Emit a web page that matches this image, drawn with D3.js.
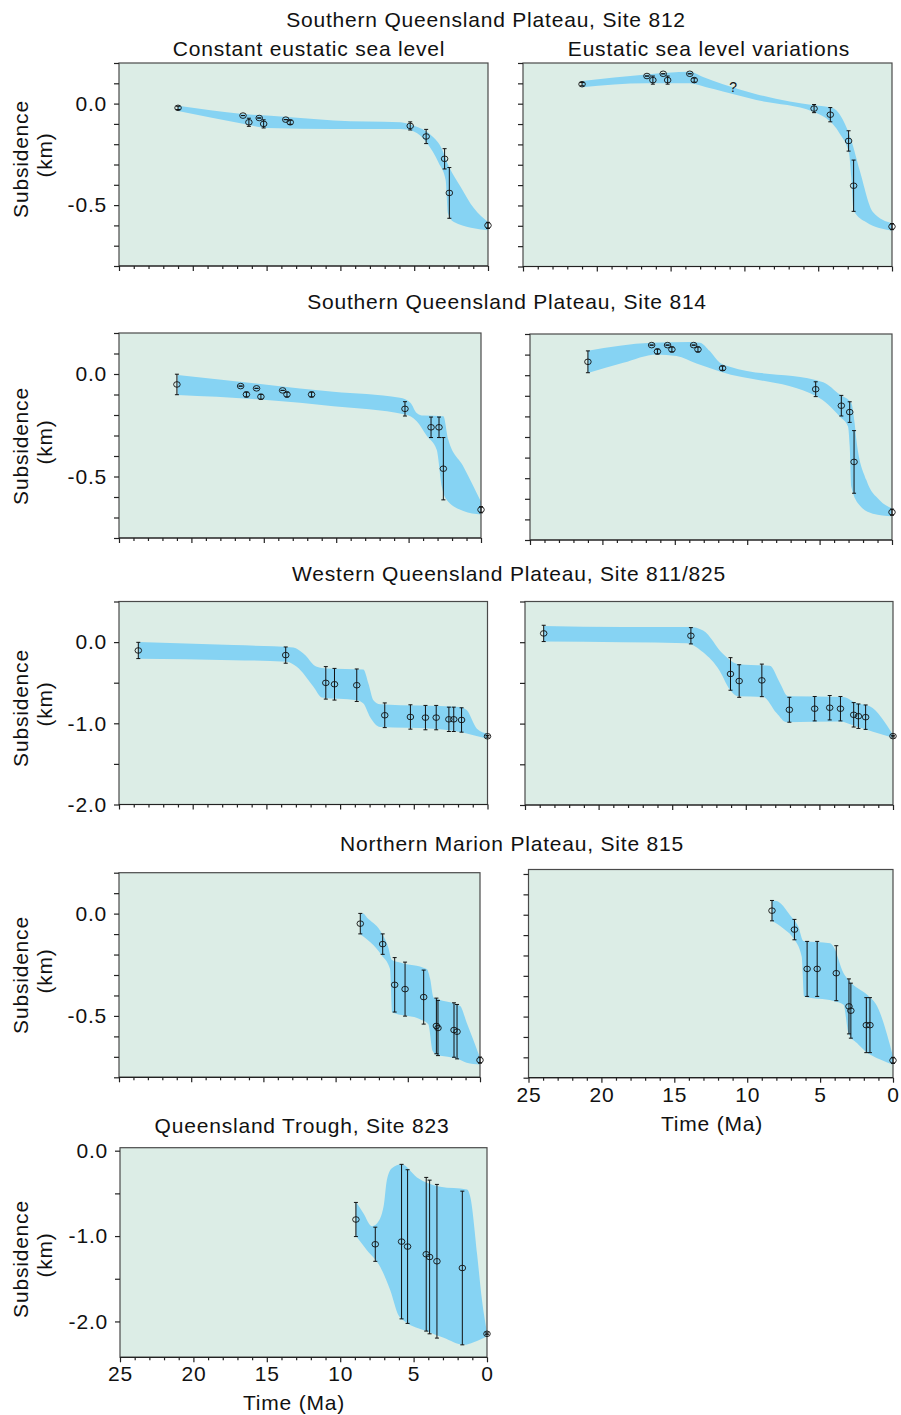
<!DOCTYPE html>
<html>
<head>
<meta charset="utf-8">
<script src="https://cdn.jsdelivr.net/npm/d3@7"></script>
<style>
  body { margin: 0; background: #fff; }
  svg { font-family: "Liberation Sans", Arial, Helvetica, sans-serif; }
  svg text { letter-spacing: 0.8px; }
</style>
</head>
<body>
<div id="chart"></div>
<script>
// ---- data: points are [age Ma, subsidence km, error km]; band edges are [age, km]
const s812cPts = [[21.0,-0.021,0.008],[16.6,-0.059,0],[16.2,-0.092,0.02],[15.5,-0.071,0],[15.2,-0.10,0.02],
  [13.7,-0.079,0],[13.4,-0.092,0.01],[5.27,-0.11,0.02],[4.19,-0.162,0.035],[2.94,-0.272,0.05],[2.62,-0.44,0.125],[0,-0.60,0.015]]
const s812cTop = [[21.0,-0.010],[16.6,-0.051],[13.6,-0.066],[10.45,-0.083],[5.93,-0.092],[5.02,-0.109],[3.89,-0.153],
  [3.21,-0.211],[2.65,-0.310],[1.86,-0.409],[0.95,-0.516],[0,-0.583]]
const s812cBot = [[21.0,-0.036],[16.6,-0.099],[14.98,-0.120],[10.45,-0.125],[5.93,-0.125],[5.02,-0.137],[4.12,-0.195],
  [3.33,-0.294],[2.87,-0.376],[2.71,-0.541],[2.31,-0.583],[0,-0.624]]

const s812ePts = [[21.0,0.096,0.008],[16.6,0.136,0],[16.2,0.116,0.02],[15.5,0.147,0],[15.2,0.116,0.02],
  [13.7,0.147,0],[13.4,0.116,0.01],[5.28,-0.024,0.02],[4.18,-0.054,0.035],[2.94,-0.183,0.05],[2.60,-0.403,0.126],[0,-0.604,0.015]]
const s812eTop = [[21.0,0.111],[16.64,0.144],[13.71,0.157],[12.80,0.131],[11.45,0.096],[9.19,0.047],[6.93,0.011],
  [5.28,-0.008],[3.99,-0.022],[3.32,-0.080],[2.76,-0.179],[2.19,-0.327],[1.28,-0.533],[0,-0.587]]
const s812eBot = [[21.0,0.081],[16.64,0.101],[13.71,0.100],[12.58,0.081],[11.45,0.060],[9.19,0.018],[5.35,-0.039],
  [4.45,-0.072],[3.55,-0.146],[2.91,-0.245],[2.76,-0.360],[2.60,-0.525],[1.74,-0.583],[0,-0.624]]
const s812eQuery = [10.73, 0.082]

const s814cPts = [[21.0,-0.051,0.05],[16.6,-0.059,0],[16.2,-0.10,0.012],[15.5,-0.070,0],[15.2,-0.111,0.012],
  [13.7,-0.080,0],[13.4,-0.10,0.012],[11.7,-0.10,0.012],[5.25,-0.17,0.035],[3.45,-0.26,0.05],[2.90,-0.26,0.05],
  [2.60,-0.462,0.152],[0,-0.662,0.015]]
const s814cTop = [[20.95,-0.005],[14.8,-0.052],[10.2,-0.087],[5.6,-0.116],[4.86,-0.141],[4.44,-0.190],[3.98,-0.203],
  [2.6,-0.206],[2.26,-0.320],[1.22,-0.451],[0,-0.623]]
const s814cBot = [[20.95,-0.103],[14.8,-0.127],[10.2,-0.157],[5.25,-0.198],[4.44,-0.230],[3.75,-0.301],[3.06,-0.369],
  [2.71,-0.549],[2.37,-0.614],[1.22,-0.668],[0,-0.685]]

const s814ePts = [[21.0,0.065,0.053],[16.6,0.146,0],[16.2,0.115,0.012],[15.5,0.146,0],[15.2,0.125,0.012],
  [13.7,0.146,0],[13.4,0.125,0.012],[11.7,0.034,0.01],[5.27,-0.068,0.036],[3.50,-0.148,0.05],[2.92,-0.179,0.05],
  [2.62,-0.421,0.152],[0,-0.665,0.015]]
const s814eTop = [[21,0.119],[16.6,0.158],[13.96,0.161],[13.27,0.158],[12.58,0.117],[11.89,0.060],[11.2,0.041],
  [4.75,-0.034],[3.61,-0.094],[2.81,-0.135],[2.58,-0.233],[2.46,-0.314],[1.77,-0.509],[0.85,-0.607],[0,-0.647]]
const s814eBot = [[21,0.011],[18.56,0.060],[16.26,0.101],[14.88,0.093],[13.5,0.057],[11.89,0.018],[5.22,-0.102],
  [3.61,-0.200],[3.04,-0.249],[2.92,-0.346],[2.81,-0.541],[2.24,-0.631],[1.32,-0.672],[0,-0.685]]

const s811cPts = [[23.69,-0.103,0.1],[13.69,-0.16,0.1],[10.97,-0.502,0.2],[10.38,-0.519,0.195],[8.87,-0.531,0.2],
  [6.97,-0.901,0.152],[5.23,-0.922,0.15],[4.21,-0.93,0.15],[3.48,-0.93,0.15],[2.62,-0.951,0.15],[2.29,-0.951,0.15],
  [1.76,-0.959,0.15],[0,-1.16,0.01]]
const s811cTop = [[23.69,0.0],[17.24,-0.037],[13.17,-0.066],[12.49,-0.140],[11.58,-0.305],[10.9,-0.325],[8.42,-0.337],
  [8.08,-0.510],[7.74,-0.716],[7.29,-0.765],[1.86,-0.798],[1.40,-0.840],[0.72,-1.066],[0,-1.128]]
const s811cBot = [[23.69,-0.206],[17.24,-0.222],[13.62,-0.243],[12.94,-0.305],[11.81,-0.551],[11.24,-0.683],[8.87,-0.716],
  [8.42,-0.757],[7.97,-0.922],[7.29,-1.045],[3.67,-1.066],[1.86,-1.107],[0.95,-1.148],[0,-1.189]]

const s811ePts = [[23.73,0.108,0.1],[13.73,0.079,0.1],[11.04,-0.39,0.2],[10.45,-0.477,0.2],[8.91,-0.469,0.2],
  [7.04,-0.83,0.153],[5.32,-0.817,0.15],[4.30,-0.805,0.15],[3.57,-0.817,0.15],[2.67,-0.892,0.15],[2.35,-0.909,0.15],
  [1.86,-0.921,0.15],[0,-1.154,0.01]]
const s811eTop = [[23.73,0.199],[18.33,0.187],[13.8,0.187],[12.9,0.145],[11.54,-0.145],[10.52,-0.270],[8.37,-0.290],
  [7.69,-0.498],[7.13,-0.664],[3.39,-0.672],[2.49,-0.747],[1.58,-0.788],[0,-1.141]]
const s811eBot = [[23.73,0.008],[18.33,0.0],[14.03,-0.012],[12.9,-0.124],[11.77,-0.353],[11.09,-0.581],[10.52,-0.664],
  [8.82,-0.672],[7.91,-0.871],[7.24,-0.983],[3.62,-0.975],[2.49,-1.037],[1.36,-1.10],[0,-1.174]]

const s815cPts = [[8.29,-0.049,0.05],[6.74,-0.149,0.05],[5.91,-0.348,0.133],[5.19,-0.369,0.132],[3.90,-0.408,0.132],
  [3.02,-0.549,0.136],[2.91,-0.559,0.135],[1.80,-0.569,0.133],[1.59,-0.577,0.133],[0,-0.716,0.015]]
const s815cTop = [[8.29,0.0],[8.08,0.0],[7.85,-0.018],[6.92,-0.083],[6.35,-0.165],[6.11,-0.225],[5.54,-0.239],
  [3.69,-0.271],[3.45,-0.320],[3.22,-0.410],[2.76,-0.422],[1.38,-0.451],[0.92,-0.533],[0,-0.704]]
const s815cBot = [[8.29,-0.101],[6.81,-0.203],[6.23,-0.271],[6.09,-0.482],[4.15,-0.516],[3.58,-0.541],[3.28,-0.672],
  [3.01,-0.690],[1.97,-0.703],[1.50,-0.712],[0.92,-0.729],[0,-0.737]]

const s815ePts = [[8.30,0.020,0.05],[6.76,-0.073,0.05],[5.89,-0.266,0.135],[5.20,-0.266,0.135],[3.89,-0.287,0.135],
  [3.02,-0.450,0.135],[2.89,-0.471,0.135],[1.83,-0.542,0.135],[1.58,-0.542,0.135],[0,-0.715,0.015]]
const s815eTop = [[8.30,0.070],[7.97,0.067],[7.06,-0.002],[6.49,-0.059],[6.14,-0.129],[4.31,-0.140],[4.08,-0.157],
  [3.39,-0.287],[3.05,-0.320],[1.56,-0.406],[1.21,-0.434],[0,-0.695]]
const s815eBot = [[8.30,-0.031],[7.52,-0.067],[6.83,-0.116],[6.26,-0.206],[6.1,-0.401],[4.08,-0.423],[3.39,-0.442],
  [3.05,-0.584],[2.47,-0.630],[1.90,-0.670],[0.87,-0.711],[0,-0.736]]

const s823Pts = [[8.93,-0.806,0.2],[7.61,-1.096,0.2],[5.82,-1.065,0.905],[5.41,-1.123,0.9],[4.14,-1.213,0.9],
  [3.91,-1.245,0.9],[3.41,-1.295,0.9],[1.68,-1.374,0.9],[0,-2.145,0.01]]
const s823Top = [[8.93,-0.599],[8.41,-0.736],[7.84,-0.885],[7.5,-0.853],[7.05,-0.658],[6.82,-0.344],[6.48,-0.207],
  [5.82,-0.160],[4.77,-0.313],[3.18,-0.423],[1.36,-0.454],[1.14,-0.540],[0.68,-1.205],[0.34,-1.753],[0,-2.125]]
const s823Bot = [[8.93,-1.0],[8.18,-1.166],[7.27,-1.362],[6.59,-1.636],[6.02,-1.930],[5.68,-1.988],[4.09,-2.114],
  [2.95,-2.192],[1.59,-2.274],[0.91,-2.243],[0,-2.172]]

const ageTicks = d3.range(0, 26, 1)
const ageLabels = [25, 20, 15, 10, 5, 0]
const kmTicksFine = d3.range(-8, 3).map(d => d / 10)
const kmLabelsFine = [0, -0.5]
const kmTicksCoarse = [0.5, 0, -0.5, -1, -1.5, -2]
const kmLabelsCoarse = [0, -1, -2]
const kmTicks823 = [0, -0.5, -1, -1.5, -2]

const titles = [
  ["Southern Queensland Plateau, Site 812", 486, 27],
  ["Constant eustatic sea level", 309, 56],
  ["Eustatic sea level variations", 709, 56],
  ["Southern Queensland Plateau, Site 814", 507, 309],
  ["Western Queensland Plateau, Site 811/825", 509, 581],
  ["Northern Marion Plateau, Site 815", 512, 851],
  ["Queensland Trough, Site 823", 302, 1133]
]

// ---- layout
const panels = [
  {x: [119, 488], y: [63, 266], dom: [-0.8, 0.2], top: s812cTop, bot: s812cBot, pts: s812cPts, ticks: kmTicksFine, labels: kmLabelsFine, yTitle: 159},
  {x: [523, 892], y: [63, 266.5], dom: [-0.8, 0.2], top: s812eTop, bot: s812eBot, pts: s812ePts, ticks: kmTicksFine, query: s812eQuery},
  {x: [119, 481], y: [333, 538], dom: [-0.8, 0.2], top: s814cTop, bot: s814cBot, pts: s814cPts, ticks: kmTicksFine, labels: kmLabelsFine, yTitle: 446},
  {x: [530, 892], y: [334, 540], dom: [-0.8, 0.2], top: s814eTop, bot: s814eBot, pts: s814ePts, ticks: kmTicksFine},
  {x: [119, 487.5], y: [601.5, 804.5], dom: [-2, 0.5], top: s811cTop, bot: s811cBot, pts: s811cPts, ticks: kmTicksCoarse, labels: kmLabelsCoarse, yTitle: 708},
  {x: [525, 893], y: [601.5, 805], dom: [-2, 0.5], top: s811eTop, bot: s811eBot, pts: s811ePts, ticks: kmTicksCoarse},
  {x: [119, 480], y: [872.7, 1077.3], dom: [-0.8, 0.2], top: s815cTop, bot: s815cBot, pts: s815cPts, ticks: kmTicksFine, labels: kmLabelsFine, yTitle: 975},
  {x: [528.5, 893], y: [869.5, 1077.7], dom: [-0.8, 0.222], top: s815eTop, bot: s815eBot, pts: s815ePts, ticks: kmTicksFine, xLabels: true, xTitle: 712},
  {x: [120, 487], y: [1147.7, 1357.3], dom: [-2.42, 0.035], top: s823Top, bot: s823Bot, pts: s823Pts, ticks: kmTicks823, labels: kmLabelsCoarse, yTitle: 1259, xLabels: true, xTitle: 294}
]

const fontSize = 21
const fmt = d => d3.format(".1f")(d).replace("\u2212", "-")

const svg = d3.select("#chart").append("svg")
    .attr("width", 901)
    .attr("height", 1415)

svg.selectAll("text.title")
    .data(titles)
    .join("text")
        .attr("class", "title")
        .attr("x", d => d[1])
        .attr("y", d => d[2])
        .attr("text-anchor", "middle")
        .attr("font-size", fontSize)
        .attr("fill", "#111")
        .text(d => d[0])

panels.forEach(p => {
    const x = d3.scaleLinear().domain([25, 0]).range(p.x)
    const y = d3.scaleLinear().domain(p.dom).range([p.y[1], p.y[0]])
    const g = svg.append("g")

    g.append("rect")
        .attr("x", p.x[0]).attr("y", p.y[0])
        .attr("width", p.x[1] - p.x[0]).attr("height", p.y[1] - p.y[0])
        .attr("fill", "#dcede6")

    // uncertainty band: top edge forward, bottom edge back
    const bandTop = p.top.map(([t, v]) => [x(t), y(v)])
    const bandBot = p.bot.map(([t, v]) => [x(t), y(v)])
    const line = d3.line().curve(d3.curveMonotoneX)
    const topPath = line(bandTop)
    const botPath = line(bandBot.slice().reverse()).replace(/^M/, "L")
    g.append("path")
        .attr("d", topPath + botPath + "Z")
        .attr("fill", "#86d3f3")

    g.append("rect")
        .attr("x", p.x[0]).attr("y", p.y[0])
        .attr("width", p.x[1] - p.x[0]).attr("height", p.y[1] - p.y[0])
        .attr("fill", "none")
        .attr("stroke", "#4a4a4a")
        .attr("stroke-width", 1.2)

    const yAxis = g.append("g")
        .attr("transform", `translate(${p.x[0]},0)`)
        .call(d3.axisLeft(y).tickValues(p.ticks).tickSize(5).tickPadding(7)
            .tickFormat(d => p.labels && p.labels.includes(d) ? fmt(d) : ""))
    yAxis.select(".domain").remove()
    yAxis.selectAll("line").attr("stroke", "#222").attr("stroke-width", 1.2)
    yAxis.selectAll("text").attr("font-size", fontSize).attr("fill", "#111")
        .attr("font-family", "Liberation Sans, Arial, sans-serif")

    const xAxis = g.append("g")
        .attr("transform", `translate(0,${p.y[1]})`)
        .call(d3.axisBottom(x).tickValues(ageTicks).tickSize(3).tickPadding(6)
            .tickFormat(d => p.xLabels && ageLabels.includes(d) ? d : ""))
    xAxis.select(".domain").attr("stroke", "#222").attr("stroke-width", 1.2)
        .attr("d", `M${p.x[0]},0H${p.x[1]}`)
    xAxis.selectAll("line").attr("stroke", "#222").attr("stroke-width", 1.2)
        .attr("y2", d => d % 5 === 0 ? 5 : 3)
    xAxis.selectAll("text").attr("font-size", fontSize).attr("fill", "#111")
        .attr("font-family", "Liberation Sans, Arial, sans-serif")

    if (p.xTitle) {
        g.append("text")
            .attr("x", p.xTitle)
            .attr("y", p.y[1] + 53)
            .attr("text-anchor", "middle")
            .attr("font-size", fontSize)
            .attr("fill", "#111")
            .text("Time (Ma)")
    }

    if (p.yTitle) {
        g.append("text")
            .attr("transform", `translate(28,${p.yTitle}) rotate(-90)`)
            .attr("text-anchor", "middle")
            .attr("font-size", fontSize)
            .attr("fill", "#111")
            .text("Subsidence")
        g.append("text")
            .attr("transform", `translate(52,${p.yTitle - 4}) rotate(-90)`)
            .attr("text-anchor", "middle")
            .attr("font-size", fontSize)
            .attr("fill", "#111")
            .text("(km)")
    }

    // error bars with caps, then open circles
    const bars = g.selectAll("g.bar")
        .data(p.pts)
        .join("g")
            .attr("class", "bar")
            .attr("stroke", "#111")
            .attr("stroke-width", 1)
    bars.append("line")
        .attr("x1", d => x(d[0])).attr("x2", d => x(d[0]))
        .attr("y1", d => y(d[1] + d[2])).attr("y2", d => y(d[1] - d[2]))
    bars.append("line")
        .attr("x1", d => x(d[0]) - 2).attr("x2", d => x(d[0]) + 2)
        .attr("y1", d => y(d[1] + d[2])).attr("y2", d => y(d[1] + d[2]))
    bars.append("line")
        .attr("x1", d => x(d[0]) - 2).attr("x2", d => x(d[0]) + 2)
        .attr("y1", d => y(d[1] - d[2])).attr("y2", d => y(d[1] - d[2]))
    bars.append("ellipse")
        .attr("cx", d => x(d[0])).attr("cy", d => y(d[1]))
        .attr("rx", 3.3).attr("ry", 2.8)
        .attr("fill", "none")
        .attr("stroke-width", 0.9)

    if (p.query) {
        g.append("text")
            .attr("x", x(p.query[0]))
            .attr("y", y(p.query[1]) + 5)
            .attr("text-anchor", "middle")
            .attr("font-size", 14)
            .attr("fill", "#111")
            .text("?")
    }
})
</script>
</body>
</html>
